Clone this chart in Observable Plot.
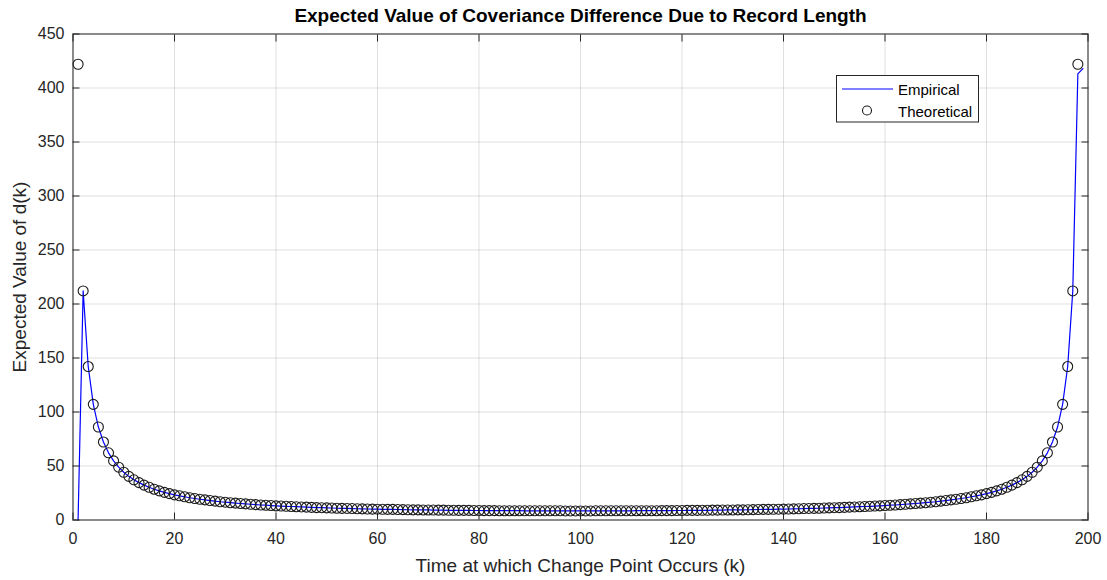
<!DOCTYPE html>
<html>
<head>
<meta charset="utf-8">
<script src="https://cdn.jsdelivr.net/npm/d3@7"></script>
<script src="https://cdn.jsdelivr.net/npm/@observablehq/plot@0.6"></script>
<style>
  html, body { margin: 0; padding: 0; background: #fff; }
  #chart { width: 1107px; height: 580px; }
</style>
</head>
<body>
<div id="chart"></div>
<script>
// ---- Data ----
const titleText = "Expected Value of Coveriance Difference Due to Record Length";
const xLabelText = "Time at which Change Point Occurs (k)";
const yLabelText = "Expected Value of d(k)";
const seriesNames = ["Empirical", "Theoretical"];
const xTicks = [0, 20, 40, 60, 80, 100, 120, 140, 160, 180, 200];
const yTicks = [0, 50, 100, 150, 200, 250, 300, 350, 400, 450];

// Theoretical expected value of d(k), k = 1 .. 198
const theoretical = [
  422.0,212.1,142.1,107.1,86.1,72.2,62.2,54.7,48.9,44.2,
  40.4,37.2,34.6,32.3,30.3,28.5,27.0,25.6,24.4,23.3,
  22.4,21.5,20.6,19.9,19.2,18.6,18.0,17.5,16.9,16.5,
  16.0,15.6,15.3,14.9,14.6,14.2,13.9,13.7,13.4,13.1,
  12.9,12.7,12.5,12.3,12.1,11.9,11.7,11.5,11.4,11.2,
  11.1,10.9,10.8,10.7,10.6,10.4,10.3,10.2,10.1,10.0,
  9.9,9.8,9.8,9.7,9.6,9.5,9.4,9.4,9.3,9.3,
  9.2,9.1,9.1,9.0,9.0,8.9,8.9,8.9,8.8,8.8,
  8.7,8.7,8.7,8.6,8.6,8.6,8.6,8.6,8.5,8.5,
  8.5,8.5,8.5,8.5,8.5,8.5,8.4,8.4,8.4,
  8.4,8.4,8.4,8.5,8.5,8.5,8.5,8.5,8.5,8.5,
  8.5,8.6,8.6,8.6,8.6,8.6,8.7,8.7,8.7,8.8,
  8.8,8.9,8.9,8.9,9.0,9.0,9.1,9.1,9.2,9.3,
  9.3,9.4,9.4,9.5,9.6,9.7,9.8,9.8,9.9,10.0,
  10.1,10.2,10.3,10.4,10.6,10.7,10.8,10.9,11.1,11.2,
  11.4,11.5,11.7,11.9,12.1,12.3,12.5,12.7,12.9,13.1,
  13.4,13.7,13.9,14.2,14.6,14.9,15.3,15.6,16.0,16.5,
  16.9,17.5,18.0,18.6,19.2,19.9,20.6,21.5,22.4,23.3,
  24.4,25.6,27.0,28.5,30.3,32.3,34.6,37.2,40.4,44.2,
  48.9,54.7,62.2,72.2,86.1,107.1,142.1,212.1,422.0
];

// Empirical curve, k = 1 .. 199
const empirical = [
  0,212.1,142.1,107.1,86.1,72.2,62.2,54.7,48.9,44.2,
  40.4,37.2,34.6,32.3,30.3,28.5,27.0,25.6,24.4,23.3,
  22.4,21.5,20.6,19.9,19.2,18.6,18.0,17.5,16.9,16.5,
  16.0,15.6,15.3,14.9,14.6,14.2,13.9,13.7,13.4,13.1,
  12.9,12.7,12.5,12.3,12.1,11.9,11.7,11.5,11.4,11.2,
  11.1,10.9,10.8,10.7,10.6,10.4,10.3,10.2,10.1,10.0,
  9.9,9.8,9.8,9.7,9.6,9.5,9.4,9.4,9.3,9.3,
  9.2,9.1,9.1,9.0,9.0,8.9,8.9,8.9,8.8,8.8,
  8.7,8.7,8.7,8.6,8.6,8.6,8.6,8.6,8.5,8.5,
  8.5,8.5,8.5,8.5,8.5,8.5,8.4,8.4,8.4,
  8.4,8.4,8.4,8.5,8.5,8.5,8.5,8.5,8.5,8.5,
  8.5,8.6,8.6,8.6,8.6,8.6,8.7,8.7,8.7,8.8,
  8.8,8.9,8.9,8.9,9.0,9.0,9.1,9.1,9.2,9.3,
  9.3,9.4,9.4,9.5,9.6,9.7,9.8,9.8,9.9,10.0,
  10.1,10.2,10.3,10.4,10.6,10.7,10.8,10.9,11.1,11.2,
  11.4,11.5,11.7,11.9,12.1,12.3,12.5,12.7,12.9,13.1,
  13.4,13.7,13.9,14.2,14.6,14.9,15.3,15.6,16.0,16.5,
  16.9,17.5,18.0,18.6,19.2,19.9,20.6,21.5,22.4,23.3,
  24.4,25.6,27.0,28.5,30.3,32.3,34.6,37.2,40.4,44.2,
  48.9,54.7,62.2,72.2,86.1,107.1,142.1,212.1,413.0,418.0
];

// ---- Build tables ----
const thData = theoretical.map((v, i) => ({k: i + 1, v}));
const emData = empirical.map((v, i) => ({k: i + 1, v}));

const fontFamily = '"Liberation Sans", Arial, Helvetica, sans-serif';
const axisColor = "#262626";
const tickLen = -7;

const chart = Plot.plot({
  width: 1107,
  height: 580,
  marginLeft: 72.5,
  marginRight: 19.5,
  marginTop: 33.5,
  marginBottom: 60.5,
  style: {fontFamily, fontSize: "16px", color: axisColor, background: "#fff", overflow: "visible"},
  x: {domain: [0, 200]},
  y: {domain: [0, 450]},
  marks: [
    Plot.gridX(xTicks, {stroke: axisColor, strokeOpacity: 0.15}),
    Plot.gridY(yTicks, {stroke: axisColor, strokeOpacity: 0.15}),
    Plot.line(emData, {x: "k", y: "v", stroke: "#0000ff", strokeWidth: 1.2}),
    Plot.dot(thData, {x: "k", y: "v", r: 5, stroke: "#1a1a1a", strokeWidth: 1.1, fill: "none"}),
    // tick labels
    Plot.axisX(xTicks, {anchor: "bottom", tickSize: 0, tickPadding: 13, label: null}),
    Plot.axisY(yTicks, {anchor: "left", tickSize: 0, tickPadding: 8.5, label: null}),
    // inward tick marks on all four sides
    Plot.axisX(xTicks, {anchor: "bottom", tickSize: tickLen, fill: "none", label: null}),
    Plot.axisX(xTicks, {anchor: "top", tickSize: tickLen, fill: "none", label: null}),
    Plot.axisY(yTicks, {anchor: "left", tickSize: tickLen, fill: "none", label: null}),
    Plot.axisY(yTicks, {anchor: "right", tickSize: tickLen, fill: "none", label: null}),
    Plot.frame({stroke: axisColor, strokeWidth: 1}),
    // title and axis labels
    Plot.text([titleText], {text: d => d, frameAnchor: "top", textAnchor: "middle", dy: -12.5, lineAnchor: "bottom",
      fontWeight: "bold", fontSize: 19, fill: "#000"}),
    Plot.text([xLabelText], {text: d => d, frameAnchor: "bottom", textAnchor: "middle", dy: 52, lineAnchor: "bottom",
      fontSize: 19, fill: axisColor}),
    Plot.text([yLabelText], {text: d => d, frameAnchor: "left", textAnchor: "middle", dx: -47.5, rotate: -90,
      lineAnchor: "bottom", fontSize: 19, fill: axisColor})
  ]
});

// ---- Legend (box inside the axes, top right) ----
const svg = d3.select(chart);
const lg = svg.append("g").attr("font-family", fontFamily).attr("font-size", 15).attr("text-anchor", "start");
lg.append("rect").attr("x", 836.5).attr("y", 75.5).attr("width", 142).attr("height", 46.5)
  .attr("fill", "#fff").attr("stroke", axisColor).attr("stroke-width", 1);
lg.append("line").attr("x1", 842).attr("x2", 893).attr("y1", 89).attr("y2", 89)
  .attr("stroke", "#0000ff").attr("stroke-width", 1.2);
lg.append("circle").attr("cx", 867).attr("cy", 110.5).attr("r", 4.5)
  .attr("fill", "none").attr("stroke", "#1a1a1a").attr("stroke-width", 1.1);
lg.append("text").attr("x", 898).attr("y", 95).attr("fill", "#000").attr("text-anchor", "start").text(seriesNames[0]);
lg.append("text").attr("x", 898).attr("y", 116.5).attr("fill", "#000").attr("text-anchor", "start").text(seriesNames[1]);

document.getElementById("chart").appendChild(chart);
</script>
</body>
</html>
